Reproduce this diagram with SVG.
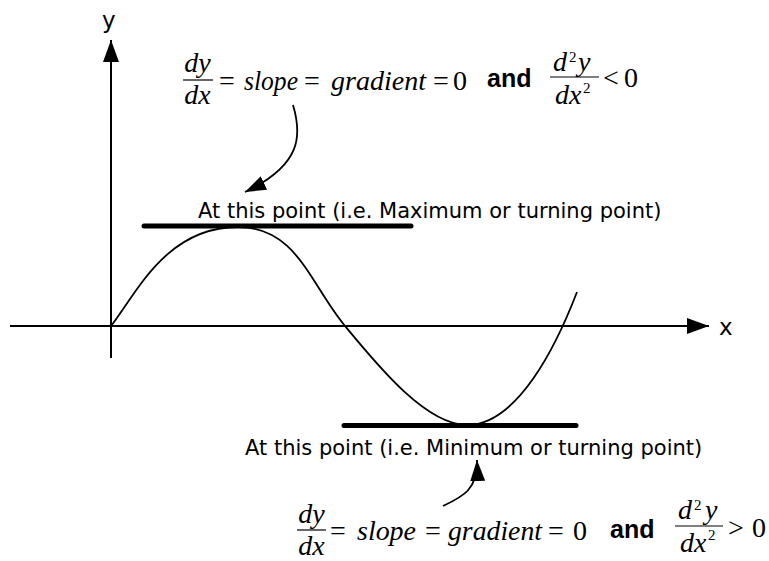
<svg xmlns="http://www.w3.org/2000/svg" width="769" height="561" viewBox="0 0 769 561">
<defs>
<style>
.axis{stroke:#000;stroke-width:2;fill:none}
.curve{stroke:#000;stroke-width:1.8;fill:none}
.tangent{stroke:#000;stroke-width:5;stroke-linecap:round;fill:none}
.conn{stroke:#000;stroke-width:1.8;fill:none}
.bar{stroke:#000;stroke-width:1.2}
.lbl{font-family:"DejaVu Sans",Verdana,sans-serif;font-size:21px;fill:#000}
.ax{font-family:"DejaVu Sans",Verdana,sans-serif;font-size:23px;fill:#000}
.mi{font-family:"Liberation Serif","Times New Roman",serif;font-style:italic;font-size:28px;fill:#000}
.mr{font-family:"Liberation Serif","Times New Roman",serif;font-size:28px;fill:#000}
.sup{font-family:"Liberation Serif","Times New Roman",serif;font-size:15px;fill:#000}
.and{font-family:"Liberation Sans",Arial,sans-serif;font-weight:bold;font-size:25px;fill:#000}
</style>
<marker id="axisHead" markerUnits="userSpaceOnUse" markerWidth="22" markerHeight="16" refX="22" refY="8" orient="auto"><path d="M0,0 L22,8 L0,16 z" fill="#000"/></marker>
<marker id="head" markerUnits="userSpaceOnUse" markerWidth="21" markerHeight="15" refX="21" refY="7.5" orient="auto"><path d="M0,0 L21,7.5 L0,15 z" fill="#000"/></marker>
</defs>

<g id="axes">
<line class="axis" x1="111" y1="358" x2="111" y2="40" marker-end="url(#axisHead)"/>
<line class="axis" x1="10" y1="326" x2="709" y2="326" marker-end="url(#axisHead)"/>
<text class="ax" x="102" y="28">y</text>
<text class="ax" x="719" y="335">x</text>
</g>

<g id="curve">
<path class="curve" d="M111,326 C135,296 165,227 238,227 C297,227 310,284 345,326 C378,366 426,425 467,425 C518,425 557,344 577,292"/>
</g>

<g id="tangent-max">
<line class="tangent" x1="144" y1="226" x2="411" y2="226"/>
<text class="lbl" x="198" y="218">At this point (i.e. Maximum or turning point)</text>
</g>

<g id="tangent-min">
<line class="tangent" x1="344" y1="425.5" x2="576" y2="425.5"/>
<text class="lbl" x="245" y="455">At this point (i.e. Minimum or turning point)</text>
</g>

<g id="formula-max">
<text class="mi" x="197.5" y="72" text-anchor="middle">dy</text>
<line class="bar" x1="183" y1="80" x2="213" y2="80"/>
<text class="mi" x="197.5" y="104" text-anchor="middle">dx</text>
<text class="mr" x="219" y="90">=</text>
<text class="mi" x="244" y="90" textLength="54" lengthAdjust="spacingAndGlyphs">slope</text>
<text class="mr" x="304" y="90">=</text>
<text class="mi" x="331" y="90" textLength="95" lengthAdjust="spacingAndGlyphs">gradient</text>
<text class="mr" x="433" y="90">=</text>
<text class="mr" x="453" y="90">0</text>
<text class="and" x="487" y="87">and</text>
<text class="mi" x="553" y="71">d</text>
<text class="sup" x="569" y="62">2</text>
<text class="mi" x="578" y="71">y</text>
<line class="bar" x1="550" y1="77" x2="599" y2="77"/>
<text class="mi" x="555" y="104">dx</text>
<text class="sup" x="583" y="93">2</text>
<text class="mr" x="603" y="87">&lt;</text>
<text class="mr" x="624" y="87">0</text>
</g>

<g id="formula-min">
<text class="mi" x="311.5" y="523" text-anchor="middle">dy</text>
<line class="bar" x1="297" y1="530" x2="326" y2="530"/>
<text class="mi" x="311.5" y="555" text-anchor="middle">dx</text>
<text class="mr" x="330" y="540">=</text>
<text class="mi" x="357" y="540" textLength="59" lengthAdjust="spacingAndGlyphs">slope</text>
<text class="mr" x="425" y="540">=</text>
<text class="mi" x="448" y="540" textLength="94" lengthAdjust="spacingAndGlyphs">gradient</text>
<text class="mr" x="548" y="540">=</text>
<text class="mr" x="573" y="540">0</text>
<text class="and" x="610" y="538">and</text>
<text class="mi" x="678" y="519">d</text>
<text class="sup" x="694" y="510">2</text>
<text class="mi" x="705" y="519">y</text>
<line class="bar" x1="675" y1="526" x2="723" y2="526"/>
<text class="mi" x="680" y="552">dx</text>
<text class="sup" x="708" y="540">2</text>
<text class="mr" x="728" y="537">&gt;</text>
<text class="mr" x="752" y="537">0</text>
</g>

<g id="connectors">
<path class="conn" d="M293,105 C302,135 302,165 245,192" marker-end="url(#head)"/>
<path class="conn" d="M443,506 C462,497 478,490 477,460" marker-end="url(#head)"/>
</g>
</svg>
